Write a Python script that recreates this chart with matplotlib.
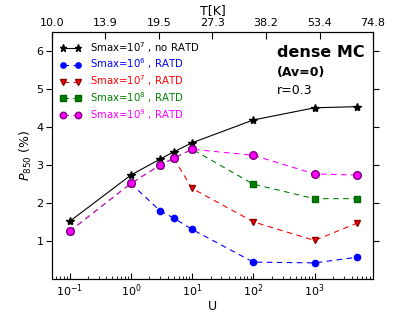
import numpy as np
import matplotlib
matplotlib.use("Agg")
import matplotlib.pyplot as plt

U_all = [0.1, 1, 3, 5, 10, 100, 1000, 5000]
p_noratd = [1.52, 2.74, 3.16, 3.35, 3.59, 4.19, 4.51, 4.54]

U_s6 = [1, 3, 5, 10, 100, 1000, 5000]
p_s6 = [2.52, 1.80, 1.61, 1.31, 0.45, 0.43, 0.58]

U_s7 = [5, 10, 100, 1000, 5000]
p_s7 = [3.18, 2.39, 1.51, 1.02, 1.48]

U_s8 = [0.1, 1, 3, 5, 10, 100, 1000, 5000]
p_s8 = [1.26, 2.52, 3.00, 3.18, 3.42, 2.50, 2.12, 2.12]

U_s9 = [0.1, 1, 3, 5, 10, 100, 1000, 5000]
p_s9 = [1.26, 2.52, 3.00, 3.18, 3.42, 3.26, 2.77, 2.74]

T_labels = ["10.0", "13.9", "19.5", "27.3", "38.2", "53.4", "74.8"]

fig = plt.figure(figsize=(4.15, 3.12), dpi=100)
ax = fig.add_axes([0.125, 0.105, 0.774, 0.792])

ax.plot(U_all, p_noratd, "k-*", lw=0.8, ms=6, label=r"Smax=10$^7$ , no RATD")
ax.plot(U_s6, p_s6, "b--o", lw=0.8, ms=4.5, mec="b", dashes=(5, 4), label=r"Smax=10$^6$ , RATD")
ax.plot(U_s7, p_s7, "r--v", lw=0.8, ms=4.5, mec="darkred", dashes=(5, 4), label=r"Smax=10$^7$ , RATD")
ax.plot(U_s8, p_s8, "--s", color="green", lw=0.8, ms=4.5, mec="darkgreen", dashes=(5, 4), label=r"Smax=10$^8$ , RATD")
ax.plot(U_s9, p_s9, "--o", color="magenta", lw=0.8, ms=5.5, mec="purple", dashes=(5, 4), label=r"Smax=10$^9$ , RATD")

ax.set_xscale("log")
xlo = (10.0 / 16.4) ** 6
xhi = (74.8 / 16.4) ** 6
ax.set_xlim(xlo, xhi)
ax.set_ylim(0, 6.5)
ax.set_yticks([1, 2, 3, 4, 5, 6])
ax.set_xticks([0.1, 1, 10, 100, 1000])
ax.tick_params(axis="y", labelsize=8, direction="out", length=4, pad=2)
ax.tick_params(axis="y", which="both", right=True)
ax.tick_params(axis="x", labelsize=8, direction="in", length=4, pad=2)
ax.tick_params(axis="x", which="minor", direction="in", length=2)
ax.set_xlabel("U", fontsize=9, labelpad=1)
ax.set_ylabel(r"$P_{850}$ (%)", fontsize=9, labelpad=2)

leg = ax.legend(loc="upper left", frameon=False, fontsize=7.3, handlelength=2.1,
                numpoints=2, markerscale=0.85, labelspacing=0.2,
                borderaxespad=0.35, handletextpad=0.9)
for txt, line in zip(leg.get_texts(), leg.get_lines()):
    txt.set_color(line.get_color())

ax.text(0.70, 0.919, "dense MC", transform=ax.transAxes, fontsize=11.5,
        fontweight="bold", va="center")
ax.text(0.70, 0.835, "(Av=0)", transform=ax.transAxes, fontsize=9,
        fontweight="bold", va="center")
ax.text(0.70, 0.762, "r=0.3", transform=ax.transAxes, fontsize=9, va="center")

ax2 = ax.twiny()
ax2.set_xscale("log")
ax2.set_xlim(xlo, xhi)
tpos = np.logspace(np.log10(xlo), np.log10(xhi), len(T_labels))
ax2.set_xticks(tpos)
ax2.set_xticklabels(T_labels)
ax2.minorticks_off()
ax2.tick_params(labelsize=8, direction="in", length=5, pad=3)
ax2.set_xlabel("T[K]", fontsize=9, labelpad=2.5)

fig.savefig("out.png", dpi=100)
